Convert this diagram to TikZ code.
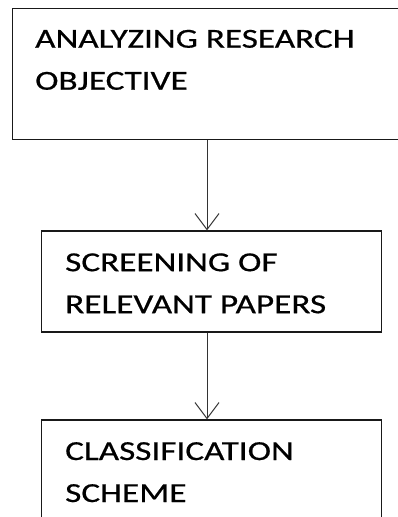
\documentclass[tikz,border=0pt]{standalone}
\usepackage{fontspec}
\setmainfont[FakeStretch=1.28,FakeBold=0.6]{Carlito}
\usetikzlibrary{arrows.meta}
\begin{document}
\begin{tikzpicture}[x=1pt,y=-1pt,
  box/.style={draw=black!90, line width=1.3pt, rectangle, inner sep=0pt},
  txt/.style={anchor=base west, inner sep=0pt, align=left,
    font=\fontsize{27.5}{42}\selectfont, text=black},
  arr/.style={draw=black!80, line width=1pt, -{Straight Barb[length=16pt,width=24pt,line width=1pt]}}]
\useasboundingbox (0,0) rectangle (398,517);
\clip (0,0) rectangle (398,517);
\node[box, minimum width=389pt, minimum height=130.5pt] (b1) at (207,74) {};
\node[box, minimum width=340pt, minimum height=101pt] (b2) at (211.5,281.5) {};
\node[box, minimum width=340pt, minimum height=101pt] (b3) at (211.5,470.5) {};
\node[txt] (t1) at (35,89.7) {ANALYZING RESEARCH\\OBJECTIVE};
\node[txt] (t2) at (65,313.2) {SCREENING OF\\RELEVANT PAPERS};
\node[txt] (t3) at (65,502) {CLASSIFICATION\\SCHEME};
\draw[arr] (b1.south) -- (b2.north -| b1.south);
\draw[arr] (b2.south -| b1.south) -- (b3.north -| b1.south);
\end{tikzpicture}
\end{document}
